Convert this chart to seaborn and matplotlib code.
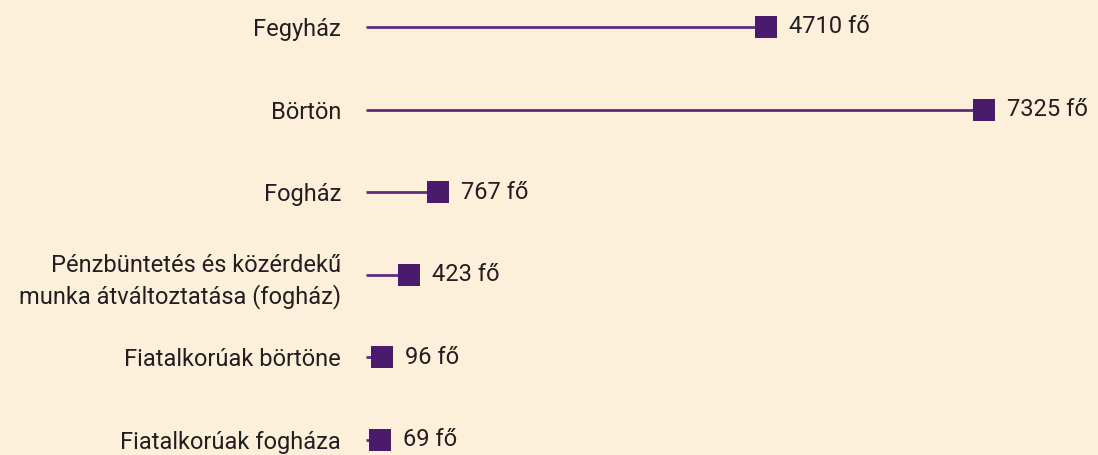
import matplotlib
matplotlib.use("Agg")
import matplotlib.pyplot as plt
import seaborn as sns
import pandas as pd

# adatok
categories = [
    "Fegyház",
    "Börtön",
    "Fogház",
    "Pénzbüntetés és közérdekű\nmunka átváltoztatása (fogház)",
    "Fiatalkorúak börtöne",
    "Fiatalkorúak fogháza",
]
values = [4710, 7325, 767, 423, 96, 69]
unit = "fő"

BG = "#fdf0db"
PURPLE = "#4a1a6c"
LINE = "#5e2d82"
TEXT = "#231f20"

# skála: px / fő, és a vonal kezdete a nulla előtt
PX_PER_UNIT = 0.08324
LINE_START = -8 / PX_PER_UNIT

sns.set_theme(style="white")
plt.rcParams["font.family"] = ["Roboto", "DejaVu Sans"]

df = pd.DataFrame({"kat": categories, "ertek": values, "pos": range(len(categories))})

fig = plt.figure(figsize=(10.98, 4.55), dpi=100, facecolor=BG)
ax = fig.add_axes([366 / 1098, 0, 1 - 366 / 1098, 1])
ax.set_facecolor(BG)

ax.hlines(df["pos"], LINE_START, df["ertek"], color=LINE, linewidth=2, zorder=1)
sns.scatterplot(data=df, x="ertek", y="pos", marker="s", s=250, color=PURPLE,
                edgecolor="none", linewidth=0, ax=ax, zorder=2, legend=False)

for _, r in df.iterrows():
    ax.annotate(f"{r['ertek']} {unit}", (r["ertek"], r["pos"]), xytext=(16.5, 0),
                textcoords="offset points", va="center", ha="left",
                fontsize=17, color=TEXT)

ax.set_xlim(LINE_START, LINE_START + 732 / PX_PER_UNIT)
ax.set_ylim(5 + 15 / 82.6, -27 / 82.6)
ax.set_yticks(df["pos"])
ax.set_yticklabels(categories, fontsize=17, color=TEXT, linespacing=1.4)
ax.tick_params(axis="y", length=0, pad=18)
ax.set_xticks([])
ax.set_xlabel("")
ax.set_ylabel("")
sns.despine(ax=ax, left=True, bottom=True)

fig.savefig("out.png", dpi=100, facecolor=BG)
